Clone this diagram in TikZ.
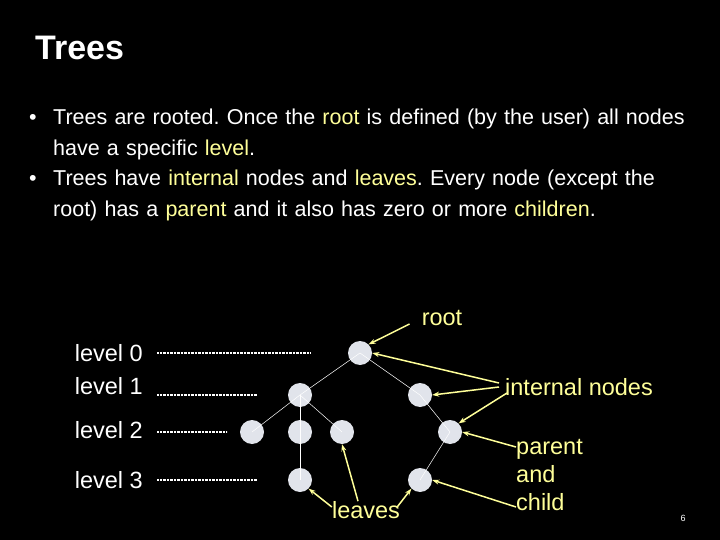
\documentclass[tikz,border=0pt]{standalone}
\usepackage{fontspec}
\setmainfont{Liberation Sans}
\usetikzlibrary{arrows.meta, positioning}
\definecolor{hiYellow}{RGB}{255, 255, 153}
\definecolor{nodeGray}{RGB}{225, 228, 235}
\tikzset{
    % Tree vertex style
    vertex/.style={circle, fill=nodeGray, minimum size=24pt, inner sep=0pt},
    edge/.style={draw=white, line width=0.5pt},
    % Level guides and labels
    levelLine/.style={draw=white, line width=1.6pt, dash pattern=on 0.8pt off 0.6pt},
    levelLabel/.style={text=white, font=\fontsize{23.5}{28}\selectfont, anchor=east, inner sep=0pt},
    % Callouts
    callout/.style={text=hiYellow, font=\fontsize{23.5}{28}\selectfont, inner sep=0pt},
    pointer/.style={-{Stealth[length=7pt,width=5pt]}, draw=hiYellow, line width=1.5pt}
}
\newcommand{\hlw}[1]{\textcolor{hiYellow}{#1}}
\begin{document}
\frenchspacing
\begin{tikzpicture}[x=1pt, y=-1pt]
    \fill[black] (0,0) rectangle (720,540);
    \useasboundingbox (0,0) rectangle (720,540);

    % --- Title and bullets ---
    \node (title) [anchor=west, text=white, font=\bfseries\fontsize{34}{38}\selectfont, inner sep=0pt] at (35,48) {Trees};
    \node (bullets) [anchor=north west, text=white, text width=700pt, align=left,
        font=\fontsize{21.5}{30.5}\selectfont, inner sep=0pt] at (25,109) {%
        \makebox[28pt][l]{\hspace{4pt}•}Trees are rooted. Once the \hlw{root} is defined (by the user) all nodes\\
        \hspace*{28pt}have a specific \hlw{level}.\\
        \makebox[28pt][l]{\hspace{4pt}•}Trees have \hlw{internal} nodes and \hlw{leaves}. Every node (except the\\
        \hspace*{28pt}root) has a \hlw{parent} and it also has zero or more \hlw{children}.};

    % --- Tree ---
    \node (root) [vertex] at (360,353) {};
    \node (a) [vertex] at (300,395) {};
    \node (b) [vertex] at (420,395) {};
    \node (c) [vertex] at (252,432) {};
    \node (d) [vertex] at (300,432) {};
    \node (e) [vertex] at (342,432) {};
    \node (f) [vertex] at (450,432) {};
    \node (g) [vertex] at (300,480) {};
    \node (h) [vertex] at (420,480) {};

    \draw [edge] (root.center) -- (a.center);
    \draw [edge] (root.center) -- (b.center);
    \draw [edge] (a.center) -- (c.center);
    \draw [edge] (a.center) -- (e.center);
    \draw [edge] (a.center) -- (g.center);
    \draw [edge] (b.center) -- (f.center);
    \draw [edge] (f.center) -- (h.center);

    % --- Levels ---
    \node (lvl0) [levelLabel] at (143,353) {level 0};
    \node (lvl1) [levelLabel] at (143,386) {level 1};
    \node (lvl2) [levelLabel] at (143,430) {level 2};
    \node (lvl3) [levelLabel] at (143,480) {level 3};
    \draw [levelLine] (157,353) -- (310,353);
    \draw [levelLine] (157,395) -- (257,395);
    \draw [levelLine] (157,432) -- (227,432);
    \draw [levelLine] (157,480) -- (257,480);

    % --- Callouts ---
    \node (rootTxt) [callout] at (442,318) {root};
    \node (intTxt) [callout, anchor=west] at (505,387) {internal nodes};
    \node (parTxt) [callout, align=left, anchor=west, font=\fontsize{23.5}{28}\selectfont] at (516,475) {parent\\and\\child};
    \node (leafTxt) [callout] at (366,510) {leaves};

    \draw [pointer] (rootTxt.west) ++(-12,6) -- (root.north east);
    \draw [pointer] (intTxt.west) ++(-6,-4) -- (root.east);
    \draw [pointer] (intTxt.west) ++(-6,0) -- (b.east);
    \draw [pointer] (intTxt.west) ++(2,6) -- (f.north east);
    \draw [pointer] (parTxt.west) ++(0,-28) -- (f.east);
    \draw [pointer] (parTxt.west) ++(0,32) -- (h.east);
    \draw [pointer] (leafTxt.west) ++(0,-3) -- (g.south east);
    \draw [pointer] (leafTxt.north) ++(-8,0) -- (e.south);
    \draw [pointer] (leafTxt.east) ++(-3,-3) -- (h.south west);

    % --- Page number ---
    \node (pageNo) [text=white, font=\fontsize{9}{10}\selectfont] at (683,518) {6};
\end{tikzpicture}
\end{document}
